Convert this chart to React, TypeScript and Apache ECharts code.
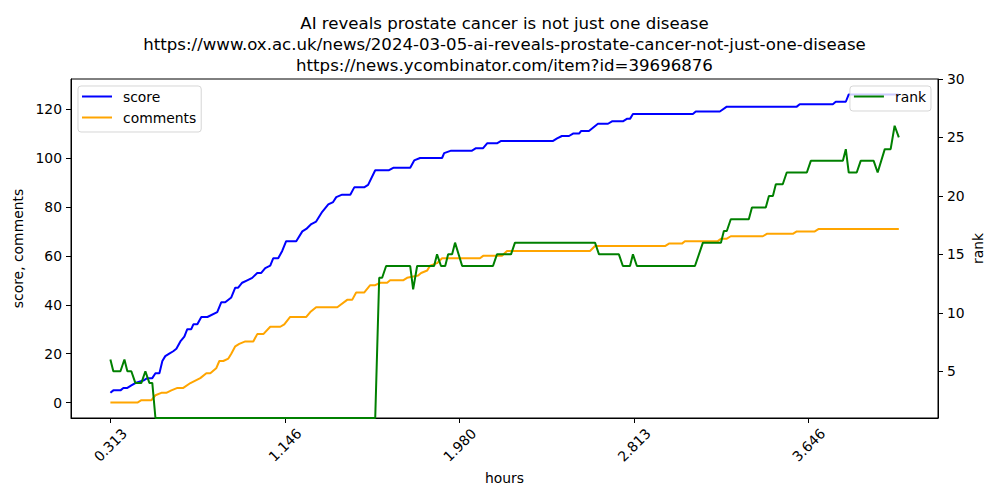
import React, { useEffect, useRef } from "react";
import * as echarts from "echarts";

const FONT = "DejaVu Sans";

const titleLines = [
  "AI reveals prostate cancer is not just one disease",
  "https://www.ox.ac.uk/news/2024-03-05-ai-reveals-prostate-cancer-not-just-one-disease",
  "https://news.ycombinator.com/item?id=39696876",
];

const xTicks = [0.313, 1.146, 1.98, 2.813, 3.646];
const leftTicks = [0, 20, 40, 60, 80, 100, 120];
const rightTicks = [5, 10, 15, 20, 25, 30];

// [hours, score]
const scoreData: [number, number][] = [
  [0.313, 4], [0.327, 5], [0.361, 5], [0.375, 6], [0.394, 6], [0.413, 7], [0.432, 8], [0.47, 9],
  [0.489, 10], [0.513, 10], [0.528, 12], [0.547, 12], [0.561, 17], [0.575, 19], [0.594, 20],
  [0.613, 21], [0.628, 22], [0.647, 25], [0.666, 27], [0.68, 30], [0.699, 30], [0.709, 32],
  [0.728, 32], [0.747, 35], [0.776, 35], [0.823, 37], [0.842, 41], [0.861, 41], [0.89, 43],
  [0.909, 47], [0.923, 47], [0.942, 49], [0.966, 50], [0.99, 51], [1.014, 53], [1.033, 53],
  [1.052, 55], [1.076, 56], [1.09, 59], [1.114, 59], [1.133, 62], [1.152, 66], [1.2, 66],
  [1.229, 70], [1.248, 71], [1.272, 73], [1.295, 74], [1.324, 78], [1.353, 81], [1.376, 82],
  [1.391, 84], [1.419, 85], [1.458, 85], [1.477, 88], [1.524, 88], [1.543, 89], [1.577, 95],
  [1.643, 95], [1.663, 96], [1.744, 96], [1.763, 99], [1.791, 100], [1.896, 100], [1.906, 102],
  [1.939, 103], [2.039, 103], [2.058, 104], [2.092, 104], [2.111, 106], [2.158, 106], [2.178, 107],
  [2.426, 107], [2.445, 108], [2.468, 109], [2.502, 109], [2.521, 110], [2.55, 110], [2.559, 111],
  [2.597, 111], [2.64, 114], [2.688, 114], [2.707, 115], [2.759, 115], [2.778, 116], [2.793, 116],
  [2.807, 118], [3.093, 118], [3.107, 119], [3.222, 119], [3.255, 121], [3.589, 121], [3.603, 122],
  [3.761, 122], [3.775, 123], [3.823, 123], [3.837, 126], [4.076, 126],
];

// [hours, comments]
const commentsData: [number, number][] = [
  [0.313, 0], [0.442, 0], [0.461, 1], [0.509, 1], [0.528, 3], [0.556, 4], [0.58, 4], [0.604, 5],
  [0.633, 6], [0.661, 6], [0.695, 8], [0.742, 10], [0.771, 12], [0.79, 12], [0.818, 14],
  [0.833, 17], [0.852, 17], [0.876, 18], [0.89, 20], [0.909, 23], [0.928, 24], [0.957, 25],
  [0.995, 25], [1.014, 28], [1.043, 28], [1.076, 31], [1.124, 31], [1.143, 32], [1.171, 35],
  [1.248, 35], [1.267, 37], [1.295, 39], [1.396, 39], [1.443, 42], [1.467, 42], [1.486, 45],
  [1.524, 45], [1.553, 48], [1.577, 48], [1.601, 49], [1.634, 49], [1.648, 50], [1.71, 50],
  [1.729, 51], [1.782, 52], [1.796, 53], [1.825, 54], [1.839, 56], [1.872, 57], [1.896, 59],
  [2.077, 59], [2.092, 60], [2.182, 60], [2.206, 62], [2.602, 62], [2.626, 64], [2.96, 64],
  [2.979, 65], [3.041, 65], [3.055, 66], [3.212, 66], [3.227, 67], [3.255, 67], [3.274, 68],
  [3.427, 68], [3.446, 69], [3.57, 69], [3.589, 70], [3.675, 70], [3.694, 71], [4.076, 71],
];

// [hours, rank]
const rankData: [number, number][] = [
  [0.313, 6], [0.327, 5], [0.361, 5], [0.38, 6], [0.394, 5], [0.413, 5], [0.432, 4], [0.461, 4],
  [0.48, 5], [0.499, 4], [0.513, 4], [0.528, 1], [1.577, 1], [1.596, 13], [1.61, 13], [1.629, 14],
  [1.744, 14], [1.758, 12], [1.777, 14], [1.858, 14], [1.872, 15], [1.891, 14], [1.911, 14],
  [1.925, 15], [1.944, 15], [1.958, 16], [1.992, 14], [2.139, 14], [2.158, 15], [2.225, 15],
  [2.244, 16], [2.626, 16], [2.645, 15], [2.74, 15], [2.759, 14], [2.793, 14], [2.807, 15],
  [2.826, 14], [3.103, 14], [3.141, 16], [3.227, 16], [3.241, 17], [3.255, 17], [3.274, 18],
  [3.36, 18], [3.375, 19], [3.441, 19], [3.456, 20], [3.475, 20], [3.489, 21], [3.522, 21],
  [3.541, 22], [3.637, 22], [3.656, 23], [3.809, 23], [3.823, 24], [3.837, 22], [3.875, 22],
  [3.894, 23], [3.956, 23], [3.975, 22], [4.009, 24], [4.037, 24], [4.056, 26], [4.076, 25],
];

const TICK_FS = 13.9;

export default function App() {
  const ref = useRef<HTMLDivElement>(null);
  useEffect(() => {
    if (!ref.current) return;
    const chart = echarts.init(ref.current, null, { renderer: "svg" });
    const legendCommon = {
      orient: "vertical",
      top: 86,
      icon: "rect",
      itemWidth: 30,
      itemHeight: 2,
      itemGap: 4,
      padding: [2, 5, 6, 4],
      backgroundColor: "rgba(255,255,255,0.8)",
      borderColor: "rgba(204,204,204,0.8)",
      borderWidth: 1,
      borderRadius: 3,
      textStyle: {
        fontFamily: FONT,
        fontSize: TICK_FS,
        color: "#000",
        lineHeight: 17,
        padding: [0, 0, 0, 6],
      },
    };
    const axisText = { fontFamily: FONT, fontSize: TICK_FS, color: "#000" };
    chart.setOption({
      animation: false,
      backgroundColor: "#fff",
      graphic: titleLines.map((t, i) => ({
        type: "text",
        x: 504.5,
        y: 23 + i * 21,
        style: {
          text: t,
          fontFamily: FONT,
          fontSize: 16.6,
          fill: "#000",
          align: "center",
          verticalAlign: "middle",
          textAlign: "center",
          textVerticalAlign: "middle",
        },
      })),
      grid: {
        left: 71,
        right: 62,
        top: 79,
        bottom: 82,
        show: true,
        borderColor: "#000",
        borderWidth: 1,
        backgroundColor: "transparent",
      },
      legend: [
        { ...legendCommon, left: 78, data: ["score", "comments"] },
        { ...legendCommon, right: 69, data: ["rank"] },
      ],
      xAxis: {
        type: "value",
        min: 0.125,
        max: 4.263,
        name: "hours",
        nameLocation: "middle",
        nameGap: 51,
        nameTextStyle: axisText,
        axisLine: { show: true, onZero: false, lineStyle: { color: "#000", width: 1 } },
        axisTick: { show: true, length: 5, customValues: xTicks, lineStyle: { color: "#000" } },
        axisLabel: {
          ...axisText,
          customValues: xTicks,
          formatter: (v: number) => v.toFixed(3),
          rotate: 45,
          align: "center",
          verticalAlign: "middle",
          margin: 27,
        },
        splitLine: { show: false },
      },
      yAxis: [
        {
          type: "value",
          min: -6.3,
          max: 132.3,
          name: "score, comments",
          nameLocation: "middle",
          nameGap: 42,
          nameTextStyle: axisText,
          axisLine: { show: true, onZero: false, lineStyle: { color: "#000", width: 1 } },
          axisTick: { show: true, length: 5, customValues: leftTicks, lineStyle: { color: "#000" } },
          axisLabel: { ...axisText, customValues: leftTicks, margin: 9 },
          splitLine: { show: false },
        },
        {
          type: "value",
          position: "right",
          min: 1,
          max: 30,
          name: "rank",
          nameLocation: "middle",
          nameGap: 40,
          nameRotate: 90,
          nameMoveOverlap: false,
          nameTextStyle: { ...axisText, verticalAlign: "middle", align: "center" },
          axisLine: { show: true, onZero: false, lineStyle: { color: "#000", width: 1 } },
          axisTick: { show: true, length: 5, customValues: rightTicks, lineStyle: { color: "#000" } },
          axisLabel: { ...axisText, customValues: rightTicks, margin: 9 },
          splitLine: { show: false },
        },
      ],
      series: [
        {
          name: "score",
          type: "line",
          yAxisIndex: 0,
          data: scoreData,
          showSymbol: false,
          symbol: "none",
          color: "#0000ff",
          lineStyle: { color: "#0000ff", width: 2 },
        },
        {
          name: "comments",
          type: "line",
          yAxisIndex: 0,
          data: commentsData,
          showSymbol: false,
          symbol: "none",
          color: "#ffa500",
          lineStyle: { color: "#ffa500", width: 2 },
        },
        {
          name: "rank",
          type: "line",
          yAxisIndex: 1,
          data: rankData,
          showSymbol: false,
          symbol: "none",
          color: "#008000",
          lineStyle: { color: "#008000", width: 2 },
        },
      ],
    });
    return () => chart.dispose();
  }, []);
  return (
    <div
      ref={ref}
      style={{ position: "absolute", left: 0, top: 0, width: 1000, height: 500 }}
    />
  );
}
